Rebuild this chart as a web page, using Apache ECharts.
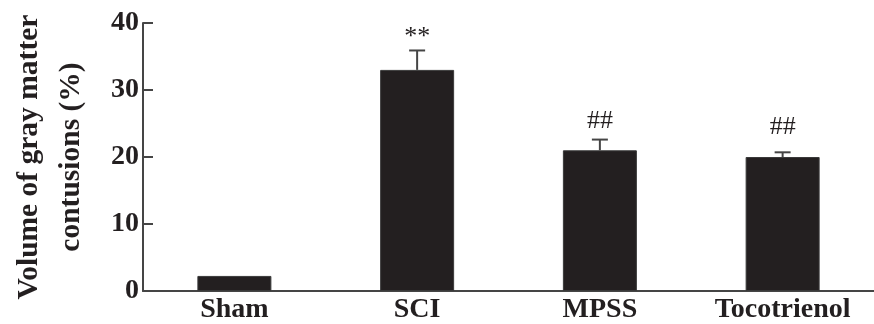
<!DOCTYPE html>
<html>
<head>
<meta charset="utf-8">
<script src="https://cdn.jsdelivr.net/npm/echarts@6/dist/echarts.min.js"></script>
<style>
html,body{margin:0;padding:0;background:#fff;}
#chart{width:874px;height:324px;}
</style>
</head>
<body>
<div id="chart"></div>
<script>
var categories = ['Sham', 'SCI', 'MPSS', 'Tocotrienol'];
var means = [2.25, 33.0, 21.0, 20.0];
var errors = [0, 2.9, 1.6, 0.7];
var marks = ['', '**', '##', '##'];
var markY = [null, 37.9, 25.3, 24.4];
var yTicks = [0, 10, 20, 30, 40];

var ink = '#231f20';
var lineCol = '#454545';
var font = '"Liberation Serif", "Times New Roman", serif';

var chart = echarts.init(document.getElementById('chart'), null, {renderer: 'canvas'});

var errData = categories.map(function (c, i) { return [i, means[i], means[i] + errors[i], marks[i], markY[i]]; });

chart.setOption({
  animation: false,
  backgroundColor: '#fff',
  grid: {left: 140, top: 23, bottom: 32, width: 736, containLabel: false},
  xAxis: {
    type: 'category',
    data: categories,
    axisLine: {lineStyle: {color: lineCol, width: 2}},
    axisTick: {inside: true, length: 9, lineStyle: {color: lineCol, width: 2}},
    axisLabel: {fontFamily: font, fontWeight: 'bold', fontSize: 28, color: ink, margin: 5}
  },
  yAxis: {
    type: 'value',
    min: yTicks[0],
    max: yTicks[yTicks.length - 1],
    interval: 10,
    splitLine: {show: false},
    axisLine: {show: true, lineStyle: {color: lineCol, width: 2}},
    axisTick: {show: true, inside: true, length: 10, lineStyle: {color: lineCol, width: 2}},
    axisLabel: {fontFamily: font, fontWeight: 'bold', fontSize: 28, color: ink, margin: 4},
    name: 'Volume of gray matter\ncontusions (%)',
    nameLocation: 'middle',
    nameRotate: 90,
    nameGap: 51,
    nameTextStyle: {fontFamily: font, fontWeight: 'bold', fontSize: 29.5, color: ink, lineHeight: 42, align: 'center'}
  },
  series: [
    {
      type: 'bar',
      data: means,
      barWidth: 74,
      itemStyle: {color: ink, borderColor: '#3a3a3a', borderWidth: 1}
    },
    {
      type: 'custom',
      data: errData,
      z: 5,
      renderItem: function (params, api) {
        var i = api.value(0);
        var base = api.coord([i, api.value(1)]);
        var top = api.coord([i, api.value(2)]);
        var children = [];
        if (api.value(2) > api.value(1)) {
          children.push({type: 'line', shape: {x1: base[0], y1: base[1], x2: top[0], y2: top[1]}, style: {stroke: lineCol, lineWidth: 2}});
          children.push({type: 'line', shape: {x1: top[0] - 8, y1: top[1], x2: top[0] + 8, y2: top[1]}, style: {stroke: lineCol, lineWidth: 2}});
        }
        var label = errData[params.dataIndex][3];
        var ly = errData[params.dataIndex][4];
        if (label) {
          var lp = api.coord([i, ly]);
          children.push({type: 'text', style: {text: label, x: lp[0], y: lp[1], align: 'center', verticalAlign: 'middle', font: '26px ' + font, fill: ink}});
        }
        return {type: 'group', children: children};
      }
    }
  ]
});
</script>
</body>
</html>
